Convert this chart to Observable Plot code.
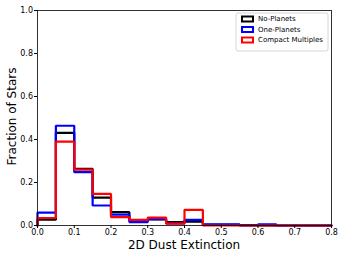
<!DOCTYPE html>
<html><head><meta charset="utf-8">
<script src="https://cdn.jsdelivr.net/npm/d3@7"></script>
<script src="https://cdn.jsdelivr.net/npm/@observablehq/plot@0.6"></script>
<style>body{margin:0;background:#fff;} svg{display:block;}</style>
</head><body><div id="chart"></div>
<script>
const binStarts = [0,0.05,0.1,0.15,0.2,0.25,0.3,0.35,0.4,0.45,0.5,0.55,0.6,0.65,0.7,0.75];
const binWidth = 0.05;
const noPlanets   = [0.027,0.431,0.264,0.130,0.062,0.023,0.028,0.016,0.018,0.003,0.003,0.002,0.000,0.000,0.000,0.000];
const onePlanets  = [0.060,0.464,0.248,0.093,0.051,0.016,0.030,0.010,0.026,0.005,0.005,0.000,0.005,0.000,0.000,0.000];
const compactMult = [0.035,0.390,0.260,0.147,0.039,0.026,0.037,0.009,0.073,0.000,0.000,0.000,0.000,0.000,0.000,0.000];
const seriesNames = ["No-Planets","One-Planets","Compact Multiples"];
const seriesColors = ["#000000","#0000ff","#ff0000"];
const xTicks = [0,0.1,0.2,0.3,0.4,0.5,0.6,0.7,0.8];
const yTicks = [0,0.2,0.4,0.6,0.8,1.0];

function stepPoints(vals, name){
  const pts = [{x: binStarts[0], y: 0, s: name}];
  vals.forEach((v,i)=>{ pts.push({x: binStarts[i], y: v, s: name}); });
  const last = binStarts[binStarts.length-1] + binWidth;
  pts.push({x: last, y: vals[vals.length-1], s: name});
  pts.push({x: last, y: 0, s: name});
  return pts;
}
const allSeries = [noPlanets, onePlanets, compactMult];

const W = 344, H = 258;
const plot = Plot.plot({
  width: W, height: H,
  marginLeft: 37, marginRight: 13, marginTop: 10, marginBottom: 33,
  style: {fontFamily: "DejaVu Sans", fontSize: "8px", background: "#fff"},
  x: {domain: [0,0.8], ticks: xTicks, tickFormat: d3.format(".1f"), label: null},
  y: {domain: [0,1], ticks: yTicks, tickFormat: d3.format(".1f"), label: null},
  marks: [
    ...allSeries.map((vals,i)=>Plot.line(stepPoints(vals, seriesNames[i]), {
      x: "x", y: "y", curve: "step-after", stroke: seriesColors[i], strokeWidth: 2.2, strokeLinejoin: "miter"
    })),
    Plot.frame({stroke: "#000", strokeWidth: 0.8}),
    Plot.axisX({ticks: xTicks, tickFormat: d3.format(".1f"), tickSize: 3, tickPadding: 0.5, fontSize: 8, label: null}),
    Plot.axisY({ticks: yTicks, tickFormat: d3.format(".1f"), tickSize: 3, tickPadding: 1.5, fontSize: 8, label: null})
  ]
});
document.getElementById("chart").appendChild(plot);

const svg = d3.select(plot);
svg.append("text").attr("x", 184).attr("y", 249).attr("text-anchor","middle")
  .attr("font-family","DejaVu Sans").attr("font-size", 12).attr("fill","#000").text("2D Dust Extinction");
svg.append("text").attr("transform","translate(16,116.5) rotate(-90)").attr("text-anchor","middle")
  .attr("font-family","DejaVu Sans").attr("font-size", 12).attr("fill","#000").text("Fraction of Stars");

const lg = svg.append("g");
lg.append("rect").attr("x",236).attr("y",13).attr("width",92).attr("height",38).attr("rx",2)
  .attr("fill","#fff").attr("stroke","#ccc").attr("stroke-width",0.8);
seriesNames.forEach((n,i)=>{
  const cy = 19 + i*10.5;
  lg.append("rect").attr("x",242).attr("y",cy-2.5).attr("width",11).attr("height",5)
    .attr("fill","none").attr("stroke",seriesColors[i]).attr("stroke-width",2);
  lg.append("text").attr("x",258).attr("y",cy).attr("dy","0.35em").attr("text-anchor","start")
    .attr("font-family","DejaVu Sans").attr("font-size",7).attr("fill","#000").text(n);
});
</script></body></html>
